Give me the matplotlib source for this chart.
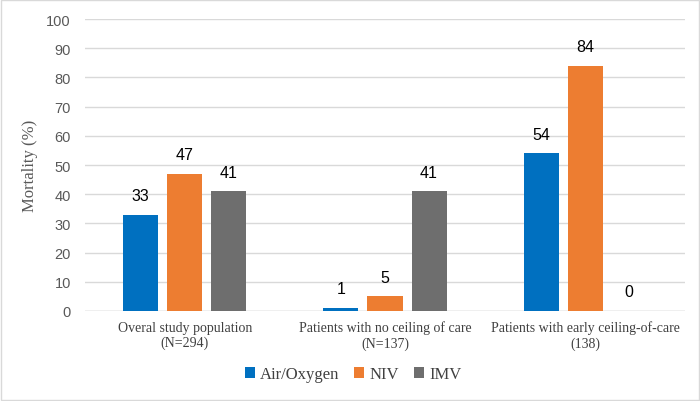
import matplotlib.pyplot as plt
import numpy as np

categories = ["Overal study population\n(N=294)",
              "Patients with no ceiling of care\n(N=137)",
              "Patients with early ceiling-of-care\n(138)"]
series_names = ["Air/Oxygen", "NIV", "IMV"]
air_oxygen = [33, 1, 54]
niv = [47, 5, 84]
imv = [41, 41, 0]
colors = ["#0070C0", "#ED7D31", "#6E6E6E"]

fig = plt.figure(figsize=(7, 4.02), dpi=100)
ax = fig.add_axes([0.121, 0.224, 0.858, 0.726])

x = np.arange(len(categories))
width = 0.175
step = 0.22
for i, (name, vals) in enumerate(zip(series_names, [air_oxygen, niv, imv])):
    bars = ax.bar(x + (i - 1) * step, vals, width, color=colors[i], label=name, zorder=3)
    for b, v in zip(bars, vals):
        ax.text(b.get_x() + b.get_width() / 2, v + 4, str(v), ha="center", va="bottom",
                fontsize=11.5, color="black", family="Liberation Sans")

ax.set_xlim(-0.5, 2.5)
ax.set_ylim(0, 100)
ax.set_yticks(range(0, 101, 10))
ax.grid(axis="y", color="#D9D9D9", linewidth=1, zorder=0)
for s in ax.spines.values():
    s.set_visible(False)
ax.axhline(0, color="#D0D0D0", linewidth=1, zorder=2)
ax.tick_params(axis="both", length=0)
ax.tick_params(axis="y", labelcolor="#595959", labelsize=10.5, pad=10)
for lab in ax.get_yticklabels():
    lab.set_family("Liberation Sans")
ax.set_xticks(x)
ax.set_xticklabels(categories, family="Liberation Serif", fontsize=10, color="#404040")
ax.tick_params(axis="x", pad=7)
ax.set_ylabel("Mortality (%)", family="Liberation Serif", fontsize=12, color="#595959", labelpad=6)

ax.legend(loc="center", bbox_to_anchor=(0.447, -0.217), ncol=3, frameon=False,
          prop={"family": "Liberation Serif", "size": 12}, handlelength=0.6, handleheight=0.6,
          columnspacing=0.9, handletextpad=0.3, labelcolor="#404040")

fig.patches.append(plt.Rectangle((0.002, 0.003), 0.996, 0.994, transform=fig.transFigure,
                                 fill=False, edgecolor="#D9D9D9", linewidth=1))
fig.savefig("out.png", dpi=100)
